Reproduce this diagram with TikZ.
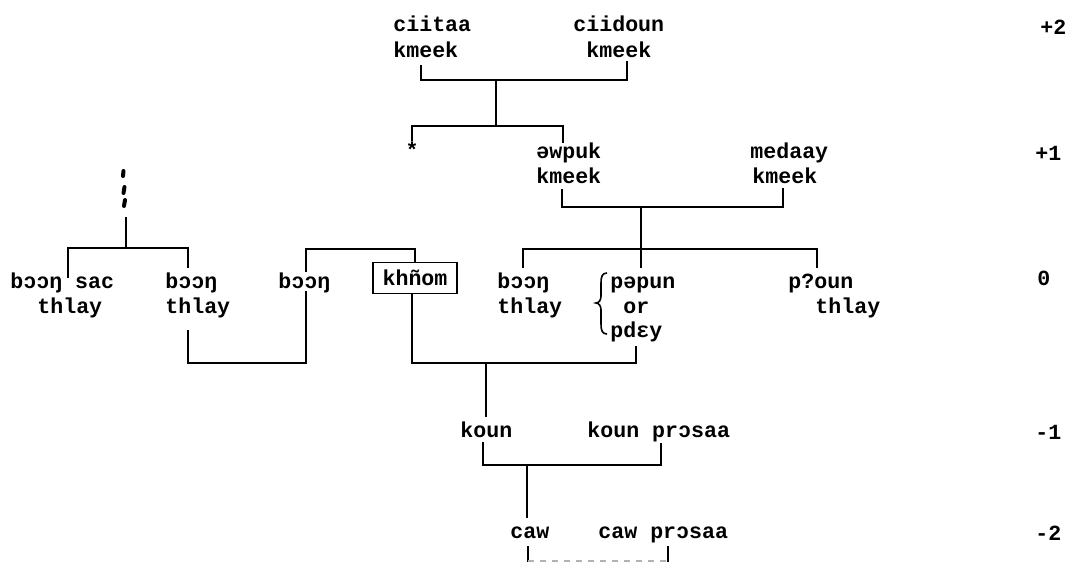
\documentclass[tikz,border=0pt]{standalone}
\usepackage{fontspec}
\newfontfamily\tw{Liberation Mono}
\begin{document}
\begin{tikzpicture}[x=0.5pt,y=-0.5pt,
  lbl/.style={anchor=base west, inner sep=0pt, font=\tw\bfseries\fontsize{10.8}{12.5}\selectfont},
  boxed/.style={draw, line width=0.8pt, inner sep=0pt, minimum width=42pt, minimum height=15.5pt, font=\tw\bfseries\fontsize{10.8}{12.5}\selectfont},
  conn/.style={line width=0.9pt},
  tick/.style={line width=2pt, line cap=round},
  faint/.style={line width=0.6pt, gray!60, dashed}]
\useasboundingbox (0,0) rectangle (1080,562);
% ---- level +2
\node[lbl] (ciitaa) at (393,32) {ciitaa};
\node[lbl] (ciitaaB) at (393,57) {kmeek};
\node[lbl] (ciidoun) at (573,32) {ciidoun};
\node[lbl] (ciidounB) at (586,57) {kmeek};
% ---- level +1
\node[lbl, anchor=center] (star) at (412,150) {*};
\node[lbl] (awpuk) at (536,158) {əwpuk};
\node[lbl] (awpukB) at (536,183) {kmeek};
\node[lbl] (medaay) at (750,158) {medaay};
\node[lbl] (medaayB) at (752,183) {kmeek};
% ---- vertical dots (continuation marks)
\draw[tick] (123.5,171) -- (123,176);
\draw[tick] (124.5,187) -- (123.5,193);
\draw[tick] (125,200) -- (124,206);
% ---- level 0
\node[lbl] (bsac) at (10,288) {bɔɔŋ sac};
\node[lbl] (bsacB) at (37,313) {thlay};
\node[lbl] (btwo) at (165,288) {bɔɔŋ};
\node[lbl] (btwoB) at (165,313) {thlay};
\node[lbl] (bthree) at (278,288) {bɔɔŋ};
\node[boxed] (khnom) at (415,278) {khñom};
\node[lbl] (bfour) at (497,288) {bɔɔŋ};
\node[lbl] (bfourB) at (497,313) {thlay};
\node[lbl] (pepun) at (610,288) {pəpun};
\node[lbl] (orw) at (623,313) {or};
\node[lbl] (pdey) at (610,337) {pdɛy};
\node[lbl] (poun) at (788,288) {p?oun};
\node[lbl] (pounB) at (815,313) {thlay};
% ---- level -1, -2
\node[lbl] (koun) at (460,437) {koun};
\node[lbl] (kounp) at (587,437) {koun prɔsaa};
\node[lbl] (caw) at (510,538) {caw};
\node[lbl] (cawp) at (598,538) {caw prɔsaa};
% ---- level numbers
\node[lbl] (lvA) at (1040,34) {+2};
\node[lbl] (lvB) at (1035,160) {+1};
\node[lbl] (lvC) at (1037,285) {0};
\node[lbl] (lvD) at (1035,439) {-1};
\node[lbl] (lvE) at (1035,540) {-2};
% ---- brace
\draw[line width=0.8pt] (607,273) .. controls (602,273) and (601,277) .. (601,283) -- (601,296)
  .. controls (601,300) and (599,303) .. (596,303) .. controls (599,303) and (601,306) .. (601,310)
  -- (601,324) .. controls (601,330) and (602,334) .. (607,334);
% ---- connectors
\draw[conn] (421,65) coordinate (tl) |- (627,80) coordinate (tr) -- (627,61);
\draw[conn] (496,80) coordinate (tstem) -- (496,126) coordinate (mstem);
\draw[conn] (412,141) coordinate (sl) |- (563,126) coordinate (sr) -- (563,143);
\draw[conn] (562,189) coordinate (al) |- (783,207) coordinate (ar) -- (783,188);
\draw[conn] (641,207) coordinate (astem) -- (641,268) coordinate (pstem);
\draw[conn] (523,268) coordinate (bl) |- (817,249) coordinate (br) -- (817,268);
% left group
\draw[conn] (126,217) coordinate (dstem) -- (126,248) coordinate (dj);
\draw[conn] (68,278) coordinate (ll) |- (188,248) coordinate (lr) -- (188,268);
% middle group
\draw[conn] (306,272) coordinate (ml) |- (415,249) coordinate (mr) -- (khnom.north -| mr);
% lower joins
\draw[conn] (188,330) coordinate (tl2) |- (306,363) coordinate (tr2) -- (306,291);
\draw[conn] (khnom.south -| 412,0) -- (412,363) coordinate (kj) -- (636,363) coordinate (pj) -- (636,346);
\draw[conn] (486,363) coordinate (kstem) -- (486,417) coordinate (kend);
\draw[conn] (483,442) coordinate (kl) |- (661,465) coordinate (kr) -- (661,443);
\draw[conn] (527,465) coordinate (cstem) -- (527,518) coordinate (cend);
\draw[conn] (528,546) coordinate (cl) -- (528,562);
\draw[conn] (668,546) coordinate (cr) -- (668,562);
\draw[faint] (528,561) -- (668,561);
\end{tikzpicture}
\end{document}
